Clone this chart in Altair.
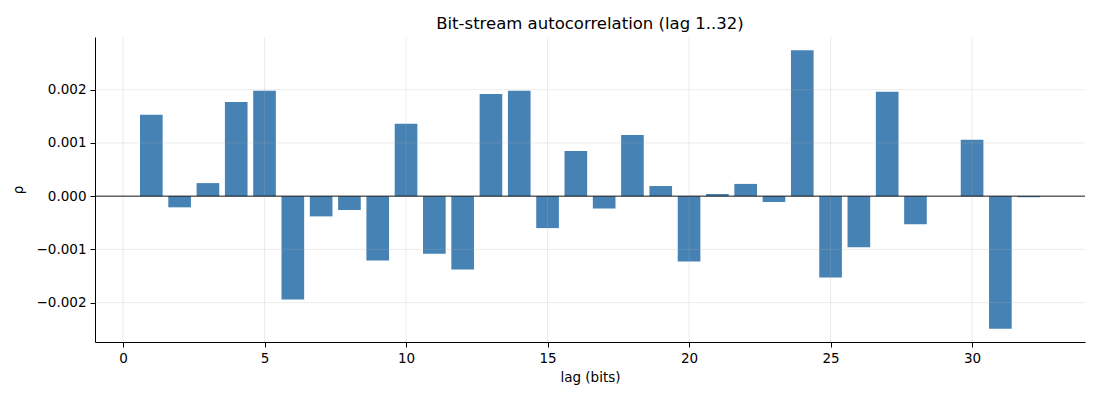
import altair as alt
import pandas as pd

lags = list(range(1, 33))
rho = [
    0.00153, -0.00021, 0.000245, 0.00177, 0.00198, -0.00194, -0.00038, -0.00026,
    -0.00121, 0.00136, -0.00108, -0.00138, 0.00192, 0.00198, -0.00060, 0.00085,
    -0.00023, 0.00115, 0.00019, -0.00123, 0.00004, 0.00023, -0.00011, 0.00274,
    -0.00153, -0.00096, 0.00196, -0.00053, 0.0, 0.00106, -0.00249, -0.00002,
]
x_ticks = [0, 5, 10, 15, 20, 25, 30]
y_ticks = [-0.002, -0.001, 0.0, 0.001, 0.002]

df = pd.DataFrame({"lag": lags, "rho": rho})
x_dom = [-0.99, 33.99]
y_dom = [-0.00274, 0.00299]

xs = alt.Scale(domain=x_dom, nice=False, zero=False)
ys = alt.Scale(domain=y_dom, nice=False, zero=False)
font = "DejaVu Sans"

bars = (
    alt.Chart(df)
    .transform_calculate(x0="datum.lag - 0.4", x1="datum.lag + 0.4", base="0")
    .mark_rect(color="#4682b4")
    .encode(
        x=alt.X("x0:Q", scale=xs, title="lag (bits)",
                axis=alt.Axis(values=x_ticks, format="d", grid=False)),
        x2="x1:Q",
        y=alt.Y("rho:Q", scale=ys, title="ρ",
                axis=alt.Axis(values=y_ticks, format=".3f", grid=False)),
        y2="base:Q",
    )
)

vgrid = (
    alt.Chart(pd.DataFrame({"t": x_ticks}))
    .mark_rule(color="#b0b0b0", opacity=0.3, strokeWidth=0.8)
    .encode(x=alt.X("t:Q", scale=xs))
)
hgrid = (
    alt.Chart(pd.DataFrame({"t": y_ticks}))
    .mark_rule(color="#b0b0b0", opacity=0.3, strokeWidth=0.8)
    .encode(y=alt.Y("t:Q", scale=ys))
)
zero = (
    alt.Chart(pd.DataFrame({"z": [0.0]}))
    .mark_rule(color="black", strokeWidth=0.9)
    .encode(y=alt.Y("z:Q", scale=ys))
)

chart = (
    alt.layer(bars, vgrid, hgrid, zero)
    .properties(
        width=990,
        height=305,
        title=alt.TitleParams("Bit-stream autocorrelation (lag 1..32)", fontSize=16.5,
                              font=font, fontWeight="normal", color="black", offset=4),
        autosize=alt.AutoSizeParams(type="none"),
        padding={"left": 87, "top": 29, "right": 7, "bottom": 50},
    )
    .configure_view(stroke=None)
    .configure_axis(
        labelFont=font, titleFont=font, labelFontSize=13.5, titleFontSize=13.5,
        titleFontWeight="normal", labelColor="black", titleColor="black",
        domainColor="black", tickColor="black", tickSize=5, labelPadding=4,
        domainWidth=1, tickWidth=1,
    )
    .configure_axisX(titlePadding=6)
    .configure_axisY(titlePadding=11)
)

chart.save("out.html", embed_options={"renderer": "svg", "actions": False})
